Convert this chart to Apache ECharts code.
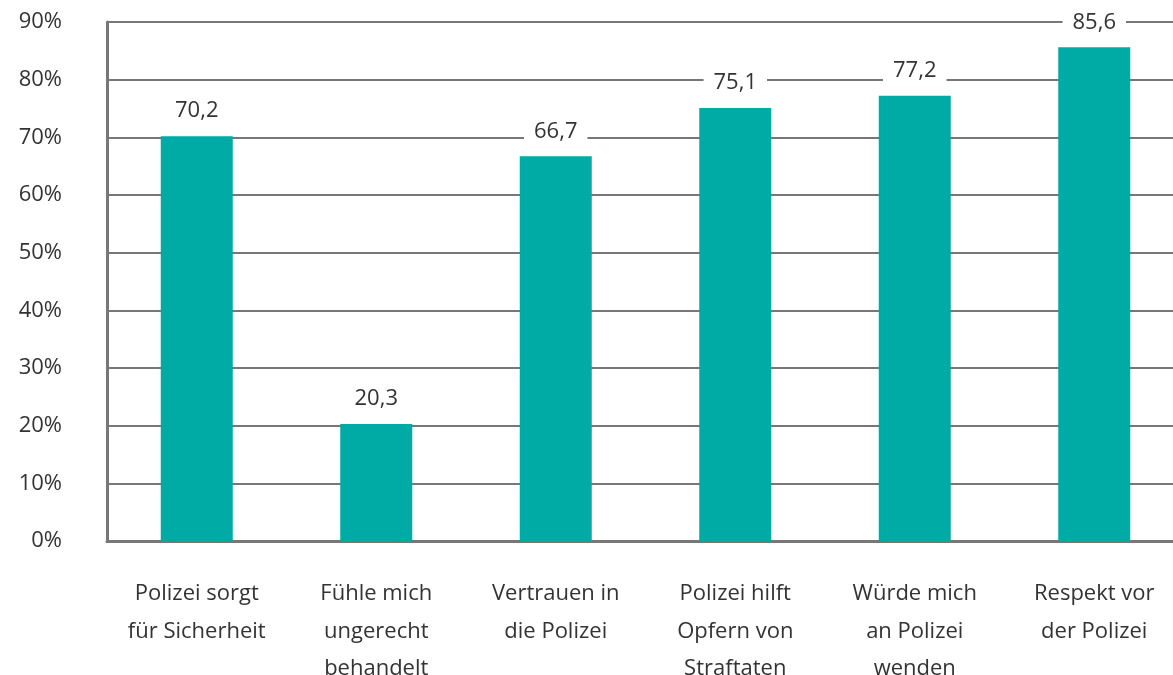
<!DOCTYPE html>
<html>
<head>
<meta charset="utf-8">
<script src="https://cdn.jsdelivr.net/npm/echarts@6/dist/echarts.min.js"></script>
<style>
	html, body { margin: 0; padding: 0; background: #fff; }
	#chart { width: 1173px; height: 675px; }
</style>
</head>
<body>
<div id="chart"></div>
<script>
	var categories = [
		'Polizei sorgt\nfür Sicherheit',
		'Fühle mich\nungerecht\nbehandelt',
		'Vertrauen in\ndie Polizei',
		'Polizei hilft\nOpfern von\nStraftaten',
		'Würde mich\nan Polizei\nwenden',
		'Respekt vor\nder Polizei'
	];
	var values = [70.2, 20.3, 66.7, 75.1, 77.2, 85.6];

	var chart = echarts.init(document.getElementById('chart'));
	var option = {
		animation: false,
		textStyle: { fontFamily: 'Open Sans' },
		grid: {
			left: 107,
			top: 22,
			width: 1077,
			height: 519,
			outerBoundsMode: 'none'
		},
		xAxis: {
			type: 'category',
			data: categories,
			axisLine: { lineStyle: { color: '#777', width: 3 } },
			axisTick: { show: false },
			axisLabel: {
				fontSize: 22,
				color: '#333',
				lineHeight: 37.5,
				margin: 34,
				interval: 0
			}
		},
		yAxis: {
			type: 'value',
			min: 0,
			max: 90,
			interval: 10,
			axisLine: { show: true, lineStyle: { color: '#777', width: 3 } },
			axisTick: { show: false },
			splitLine: { lineStyle: { color: '#777', width: 2 } },
			axisLabel: {
				fontSize: 22,
				color: '#333',
				margin: 45,
				formatter: '{value}%'
			}
		},
		series: [{
			type: 'bar',
			data: values,
			barWidth: 72,
			itemStyle: { color: '#00aba5' },
			label: {
				show: true,
				position: 'top',
				distance: 12,
				fontSize: 22,
				color: '#333',
				backgroundColor: '#fff',
				padding: [2, 10],
				formatter: function (p) {
					return p.value.toFixed(1).replace('.', ',');
				}
			}
		}]
	};
	chart.setOption(option);
	window.addEventListener('resize', function () {
		chart.resize();
	});
</script>
</body>
</html>
